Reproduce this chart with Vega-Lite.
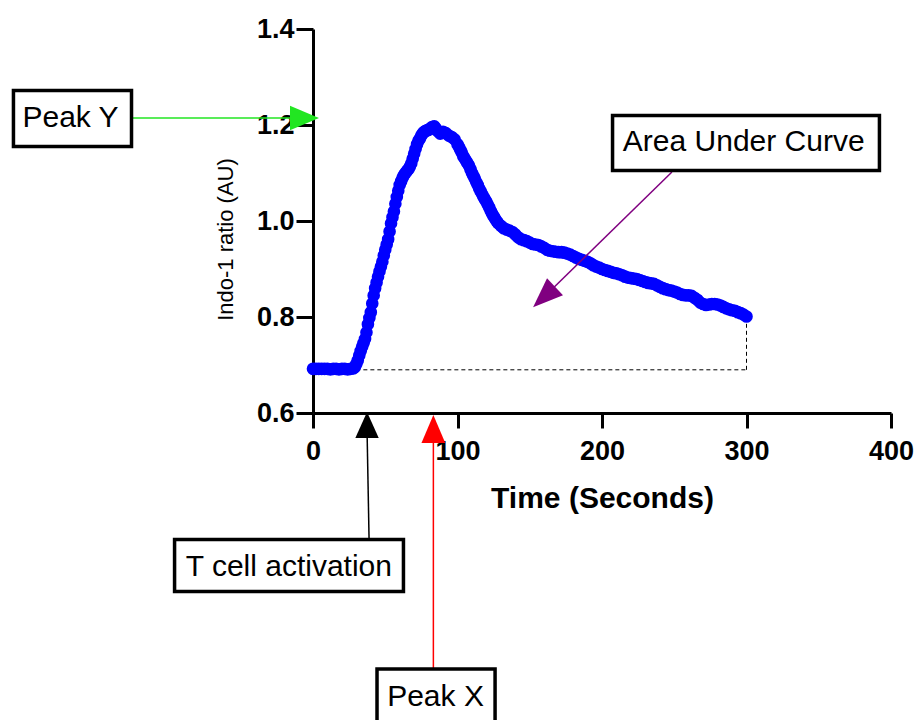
{
  "$schema": "https://vega.github.io/schema/vega-lite/v6.json",
  "width": 578,
  "height": 384,
  "autosize": {"type": "none"},
  "padding": {"left": 313, "top": 29, "right": 24, "bottom": 307},
  "background": "white",
  "config": {"view": {"stroke": null}, "font": "Liberation Sans"},
  "datasets": {
    "curve": [
      {"x":0,"y":0.692},{"x":2,"y":0.692},{"x":4,"y":0.692},{"x":6,"y":0.692},{"x":8,"y":0.692},{"x":10,"y":0.692},{"x":12,"y":0.691},{"x":14,"y":0.692},{"x":16,"y":0.692},{"x":18,"y":0.691},{"x":20,"y":0.692},{"x":22,"y":0.692},{"x":24,"y":0.691},{"x":26,"y":0.692},{"x":28,"y":0.693},
      {"x":29,"y":0.696},{"x":31,"y":0.710},{"x":33,"y":0.729},{"x":35,"y":0.746},{"x":37,"y":0.768},{"x":39,"y":0.798},{"x":41,"y":0.828},{"x":43,"y":0.860},{"x":45,"y":0.884},{"x":47,"y":0.905},{"x":49,"y":0.928},{"x":51,"y":0.951},{"x":53,"y":0.978},{"x":55,"y":1.008},{"x":57,"y":1.036},{"x":59,"y":1.063},{"x":61,"y":1.083},{"x":63,"y":1.096},{"x":65,"y":1.104},{"x":67,"y":1.113},{"x":69,"y":1.130},{"x":71,"y":1.150},{"x":73,"y":1.167},{"x":75,"y":1.178},{"x":77,"y":1.186},{"x":79,"y":1.189},{"x":81,"y":1.192},{"x":83,"y":1.196},{"x":85,"y":1.193},
      {"x":30,"y":0.702},{"x":32,"y":0.720},{"x":34,"y":0.738},{"x":36,"y":0.754},{"x":38,"y":0.785},{"x":40,"y":0.810},{"x":42,"y":0.845},{"x":44,"y":0.872},{"x":46,"y":0.895},{"x":48,"y":0.915},{"x":50,"y":0.940},{"x":52,"y":0.962},{"x":54,"y":0.995},{"x":56,"y":1.020},{"x":58,"y":1.050},
      {"x":60,"y":1.075},{"x":62,"y":1.090},{"x":64,"y":1.100},{"x":66,"y":1.108},{"x":68,"y":1.120},{"x":70,"y":1.140},{"x":72,"y":1.160},{"x":74,"y":1.172},{"x":76,"y":1.183},{"x":78,"y":1.188},{"x":80,"y":1.190},{"x":82,"y":1.195},{"x":84,"y":1.197},{"x":86,"y":1.188},{"x":88,"y":1.182},
      {"x":90,"y":1.186},{"x":92,"y":1.183},{"x":94,"y":1.178},{"x":96,"y":1.175},{"x":98,"y":1.170},{"x":100,"y":1.160},{"x":102,"y":1.148},{"x":104,"y":1.135},{"x":106,"y":1.125},{"x":108,"y":1.115},{"x":110,"y":1.100},{"x":112,"y":1.088},{"x":114,"y":1.075},{"x":116,"y":1.062},{"x":118,"y":1.050},
      {"x":101,"y":1.154},{"x":103,"y":1.142},{"x":105,"y":1.130},{"x":107,"y":1.120},{"x":109,"y":1.108},{"x":111,"y":1.094},{"x":113,"y":1.081},{"x":115,"y":1.068},{"x":117,"y":1.056},{"x":119,"y":1.045},{"x":121,"y":1.034},{"x":123,"y":1.021},{"x":125,"y":1.010},{"x":127,"y":1.000},
      {"x":120,"y":1.040},{"x":122,"y":1.028},{"x":124,"y":1.015},{"x":126,"y":1.005},{"x":128,"y":0.996},{"x":130,"y":0.990},{"x":132,"y":0.985},{"x":134,"y":0.982},{"x":136,"y":0.980},{"x":138,"y":0.977},{"x":140,"y":0.972},{"x":142,"y":0.966},{"x":144,"y":0.962},{"x":146,"y":0.960},{"x":148,"y":0.958},
      {"x":150,"y":0.955},{"x":152,"y":0.952},{"x":154,"y":0.951},{"x":156,"y":0.950},{"x":158,"y":0.947},{"x":160,"y":0.944},{"x":162,"y":0.940},{"x":164,"y":0.938},{"x":166,"y":0.937},{"x":168,"y":0.936},{"x":170,"y":0.935},{"x":172,"y":0.935},{"x":174,"y":0.934},{"x":176,"y":0.932},{"x":178,"y":0.930},
      {"x":180,"y":0.927},{"x":182,"y":0.924},{"x":184,"y":0.921},{"x":186,"y":0.919},{"x":188,"y":0.917},{"x":190,"y":0.915},{"x":192,"y":0.912},{"x":194,"y":0.908},{"x":196,"y":0.905},{"x":198,"y":0.903},{"x":200,"y":0.900},{"x":202,"y":0.898},{"x":204,"y":0.896},{"x":206,"y":0.894},{"x":208,"y":0.892},
      {"x":210,"y":0.891},{"x":212,"y":0.889},{"x":214,"y":0.887},{"x":216,"y":0.884},{"x":218,"y":0.882},{"x":220,"y":0.881},{"x":222,"y":0.880},{"x":224,"y":0.879},{"x":226,"y":0.877},{"x":228,"y":0.875},{"x":230,"y":0.873},{"x":232,"y":0.871},{"x":234,"y":0.870},{"x":236,"y":0.869},{"x":238,"y":0.866},
      {"x":240,"y":0.863},{"x":242,"y":0.860},{"x":244,"y":0.858},{"x":246,"y":0.856},{"x":248,"y":0.855},{"x":250,"y":0.853},{"x":252,"y":0.851},{"x":254,"y":0.848},{"x":256,"y":0.846},{"x":258,"y":0.845},{"x":260,"y":0.845},{"x":262,"y":0.844},{"x":264,"y":0.840},{"x":266,"y":0.836},{"x":268,"y":0.830},
      {"x":270,"y":0.827},{"x":272,"y":0.825},{"x":274,"y":0.826},{"x":276,"y":0.827},{"x":278,"y":0.827},{"x":280,"y":0.826},{"x":282,"y":0.824},{"x":284,"y":0.821},{"x":286,"y":0.818},{"x":288,"y":0.816},{"x":290,"y":0.814},{"x":292,"y":0.813},{"x":294,"y":0.810},{"x":296,"y":0.808},{"x":298,"y":0.805},{"x":300,"y":0.801}
    ],
    "baseline": [
      {"x":30,"y":0.690,"x2":300,"y2":0.690},
      {"x":300,"y":0.690,"x2":300,"y2":0.801}
    ],
    "boxes": [
      {"label":"Peak Y","x":-207.3,"x2":-125.6,"y":1.2719,"y2":1.1552,"tx":-167.8,"ty":1.2142},
      {"label":"T cell activation","x":-95.8,"x2":62.6,"y":0.3365,"y2":0.2281,"tx":-16.7,"ty":0.2792},
      {"label":"Peak X","x":44.3,"x2":126.0,"y":0.0667,"y2":-0.0479,"tx":84.8,"ty":0.0090},
      {"label":"Area Under Curve","x":207.3,"x2":392.0,"y":1.2198,"y2":1.1052,"tx":298.1,"ty":1.1642}
    ],
    "arrows": [
      {"name":"Peak Y","x":-124.6,"y":1.2146,"x2":-9,"y2":1.2146,"hx":-5.9,"hy":1.2146},
      {"name":"T cell activation","x":38.8,"y":0.3375,"x2":37.4,"y2":0.5646,"hx":37.4,"hy":0.575},
      {"name":"Peak X","x":83.3,"y":0.0688,"x2":83.3,"y2":0.5542,"hx":83.3,"hy":0.5667},
      {"name":"Area Under Curve","x":248.4,"y":1.1021,"x2":160.6,"y2":0.8438,"hx":159.9,"hy":0.8417}
    ]
  },
  "layer": [
    {
      "data": {"name": "baseline"},
      "mark": {"type": "rule", "color": "black", "strokeWidth": 1, "strokeDash": [4, 3]},
      "encoding": {
        "x": {
          "field": "x", "type": "quantitative",
          "scale": {"domain": [0, 400], "nice": false, "zero": false},
          "axis": {
            "title": "Time (Seconds)",
            "values": [0, 100, 200, 300, 400],
            "grid": false,
            "labelFlush": false,
            "domainColor": "black", "domainWidth": 3,
            "tickColor": "black", "tickWidth": 3, "tickSize": 15,
            "labelFont": "Liberation Sans", "labelFontSize": 27, "labelFontWeight": "bold", "labelColor": "black",
            "labelBaseline": "alphabetic", "labelPadding": 31,
            "titleFont": "Liberation Sans", "titleFontSize": 30, "titleFontWeight": "bold", "titleColor": "black",
            "titleBaseline": "alphabetic", "titleY": 94
          }
        },
        "x2": {"field": "x2"},
        "y": {
          "field": "y", "type": "quantitative",
          "scale": {"domain": [0.6, 1.4], "nice": false, "zero": false},
          "axis": {
            "title": "Indo-1 ratio (AU)",
            "values": [0.6, 0.8, 1.0, 1.2, 1.4],
            "format": ".1f",
            "grid": false,
            "labelFlush": false,
            "domainColor": "black", "domainWidth": 3,
            "tickColor": "black", "tickWidth": 3, "tickSize": 17,
            "labelFont": "Liberation Sans", "labelFontSize": 27, "labelFontWeight": "bold", "labelColor": "black",
            "labelPadding": 2,
            "titleFont": "Liberation Sans", "titleFontSize": 22, "titleFontWeight": "normal", "titleColor": "black",
            "titleBaseline": "alphabetic", "titleX": -81, "titleY": 210
          }
        },
        "y2": {"field": "y2"}
      }
    },
    {
      "data": {"name": "curve"},
      "mark": {"type": "point", "shape": "circle", "filled": true, "color": "#0000FF", "opacity": 1, "size": 160},
      "encoding": {
        "x": {"field": "x", "type": "quantitative"},
        "y": {"field": "y", "type": "quantitative"}
      }
    },
    {
      "data": {"name": "arrows"},
      "mark": {"type": "rule", "strokeWidth": 1.5},
      "encoding": {
        "x": {"field": "x", "type": "quantitative"},
        "x2": {"field": "x2"},
        "y": {"field": "y", "type": "quantitative"},
        "y2": {"field": "y2"},
        "color": {
          "field": "name", "type": "nominal", "legend": null,
          "scale": {"domain": ["Peak Y", "T cell activation", "Peak X", "Area Under Curve"], "range": ["#22E622", "#000000", "#FF0000", "#800080"]}
        }
      }
    },
    {
      "data": {"name": "arrows"},
      "transform": [{"filter": "datum.name === 'Peak Y'"}],
      "mark": {"type": "point", "shape": "M0,-1L0.85,1L-0.85,1Z", "filled": true, "color": "#22E622", "opacity": 1, "size": 841, "angle": 90},
      "encoding": {"x": {"field": "hx", "type": "quantitative"}, "y": {"field": "hy", "type": "quantitative"}}
    },
    {
      "data": {"name": "arrows"},
      "transform": [{"filter": "datum.name === 'T cell activation'"}],
      "mark": {"type": "point", "shape": "M0,-1L0.9,1L-0.9,1Z", "filled": true, "color": "#000000", "opacity": 1, "size": 676, "angle": 0},
      "encoding": {"x": {"field": "hx", "type": "quantitative"}, "y": {"field": "hy", "type": "quantitative"}}
    },
    {
      "data": {"name": "arrows"},
      "transform": [{"filter": "datum.name === 'Peak X'"}],
      "mark": {"type": "point", "shape": "M0,-1L0.85,1L-0.85,1Z", "filled": true, "color": "#FF0000", "opacity": 1, "size": 784, "angle": 0},
      "encoding": {"x": {"field": "hx", "type": "quantitative"}, "y": {"field": "hy", "type": "quantitative"}}
    },
    {
      "data": {"name": "arrows"},
      "transform": [{"filter": "datum.name === 'Area Under Curve'"}],
      "mark": {"type": "point", "shape": "M0,-1L0.78,1L-0.78,1Z", "filled": true, "color": "#800080", "opacity": 1, "size": 900, "angle": 227},
      "encoding": {"x": {"field": "hx", "type": "quantitative"}, "y": {"field": "hy", "type": "quantitative"}}
    },
    {
      "data": {"name": "boxes"},
      "mark": {"type": "rect", "fill": "white", "stroke": "black", "strokeWidth": 3.5},
      "encoding": {
        "x": {"field": "x", "type": "quantitative"},
        "x2": {"field": "x2"},
        "y": {"field": "y", "type": "quantitative"},
        "y2": {"field": "y2"}
      }
    },
    {
      "data": {"name": "boxes"},
      "mark": {"type": "text", "font": "Liberation Sans", "fontSize": 30, "color": "black", "align": "center", "baseline": "middle"},
      "encoding": {
        "x": {"field": "tx", "type": "quantitative"},
        "y": {"field": "ty", "type": "quantitative"},
        "text": {"field": "label"}
      }
    }
  ]
}
